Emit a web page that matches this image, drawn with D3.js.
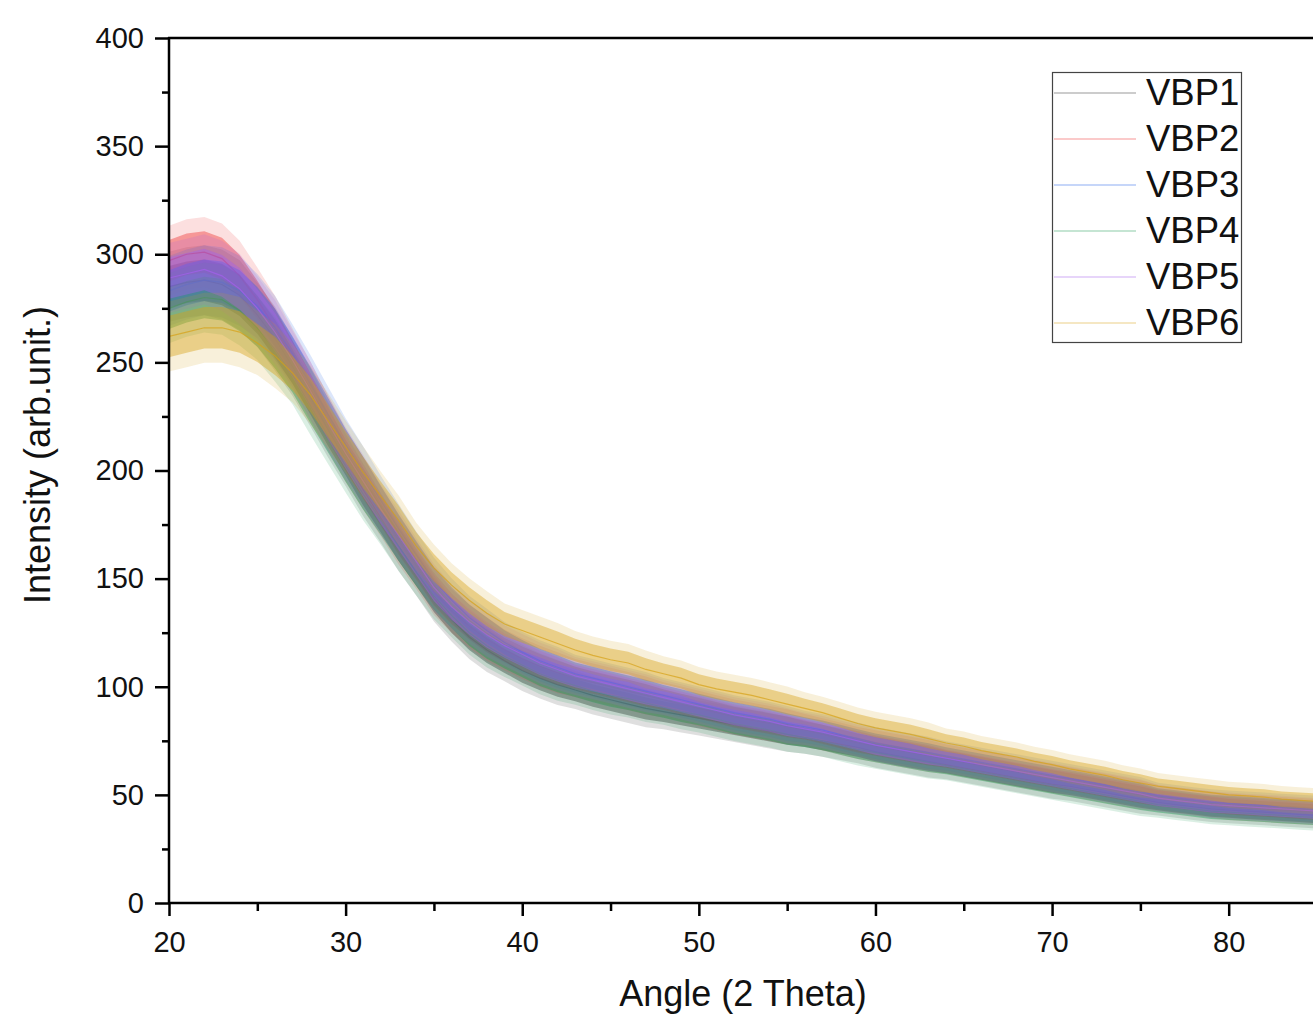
<!DOCTYPE html>
<html>
<head>
<meta charset="utf-8">
<script src="https://cdn.jsdelivr.net/npm/d3@7"></script>
<style>
  body { margin: 0; background: #fff; }
  svg { display: block; font-family: "Liberation Sans", Arial, sans-serif; }
</style>
</head>
<body>
<svg width="1313" height="1016"></svg>
<script>
// angle (2 theta), one reading per degree
const angles = [20,21,22,23,24,25,26,27,28,29,30,31,32,33,34,35,36,37,38,39,40,41,42,43,44,45,46,47,48,49,50,
  51,52,53,54,55,56,57,58,59,60,61,62,63,64,65,66,67,68,69,70,71,72,73,74,75,76,77,78,79,80,81,82,83,84,85];

// mean intensity
const vbp1 = [285,287,288,286,281,272,261,248,234,219,205,191,178,165,153,141,131,123,117,112,107.5,104,101,98.5,96,94,92,90,88.5,87,85.5,
  84,82.5,81,79.5,78,76.5,75,73.5,72,70,68.5,67,65.5,64,62.5,61,59.5,58,56.5,55,54,52.5,51,49.5,48,46.5,45.5,44.5,43.5,43,42.5,42,41.5,41,40.5];
const vbp2 = [297,300,301,298,290,279,266,252,237,222,207,194,181,168,156,144,135,128,122,117,113,109.5,106.5,104,102,100,98,96,94,92,90,
  88,86,84.5,83,81.5,80,78,76,74,72.5,71,69.5,68,66.5,65,63.5,62,60.5,59,57.5,56,54.5,53,51.5,50,48.5,47.5,46.5,45.5,44.5,44,43.5,43,42.5,42];
const vbp3 = [283,286,288,287,283,276,266,254,240,226,212,199,186,173,161,149,140,132,126,120.5,116,112,109,106,104,102,100,98,96,94,92,
  90,88,86.5,85,83,81.5,80,78,76,74,72.5,71,69.5,68,66.5,65,63.5,62,60.5,59,57.5,56,54.5,53,51.5,49.5,48.5,47.5,46.5,46,45.5,45,44.5,44,43.5];
const vbp4 = [275,278,280,279,274,266,256,244,230,216,202,189,177,165,153,142,133,125,119,114,110,106,103,100.5,98,96,94.5,92.5,90.5,88.5,87,
  85,83,81.5,80,78,76.5,75,73,71,69.5,68,66.5,65,63.5,62,60.5,59,57.5,56,54.5,53,51.5,50,48.5,47,45.5,44.5,43.5,42.5,42,41.5,41,40.5,40,39.5];
const vbp5 = [289,291,293,290,284,275,264,251,237,222,208,195,182,170,158,146,137,130,124,119,115,111,108,105,103,101,99,97,95,93,91,
  89,87,85.5,84,82,80.5,79,77,75,73,71.5,70,68.5,67,65.5,64,62.5,61,59.5,58,56.5,55,53.5,52,50.5,48.5,47.5,46.5,45.5,45,44.5,44,43.5,43,42.5];
const vbp6 = [262,264,266,266,264,259,253,245,235,223,211,199,188,177,165,155,147,140,134,129,126,123,120,117,114.5,112.5,111,108,106,104,101,
  99,97.5,96,94,92,90,88,85.5,83,81,79.5,78,76,74,72.5,70.5,69,67.5,65.5,64,62,60.5,59,57,55.5,54,53,52,51,50,49.5,49,48,47.5,47];

// half-width of the noise band around each mean
const spread = [12,12,12,12,12,11,11,10,10,9.5,9,9,8.5,8.5,8,8,7.5,7.5,7.5,7,7,7,7,6.5,6.5,6.5,6.5,6.5,6,6,6,
  6,6,6,6,6,5.5,5.5,5.5,5.5,5.5,5.5,5.5,5.5,5,5,5,5,5,5,5,5,5,5,5,5,4.5,4.5,4.5,4.5,4.5,4.5,4.5,4.5,4.5,4.5];

const names = ["VBP1", "VBP2", "VBP3", "VBP4", "VBP5", "VBP6"];
const colors = ["#3a3a3a", "#ee3535", "#2462e6", "#1f9a55", "#a45fec", "#d6a117"];
const series = [vbp1, vbp2, vbp3, vbp4, vbp5, vbp6];

const yTicks = [0, 50, 100, 150, 200, 250, 300, 350, 400];
const xTicks = [20, 30, 40, 50, 60, 70, 80];

const svg = d3.select("svg");

const x = d3.scaleLinear().domain([20, 85]).range([169, 1317]);
const y = d3.scaleLinear().domain([0, 400]).range([903, 38]);

svg.append("clipPath").attr("id", "plot")
   .append("rect")
   .attr("x", 169).attr("y", 38)
   .attr("width", 1313 - 169).attr("height", 903 - 38);

const plot = svg.append("g").attr("clip-path", "url(#plot)");

series.forEach((vals, k) => {
  const pts = angles.map((a, i) => ({a: a, v: vals[i], s: spread[i]}));

  // outer, faint part of the noise (tips of the spikes)
  const outer = d3.area()
                  .x(d => x(d.a))
                  .y0(d => y(d.v - d.s * 1.35))
                  .y1(d => y(d.v + d.s * 1.35));
  plot.append("path")
      .datum(pts)
      .attr("d", outer)
      .attr("fill", colors[k])
      .attr("fill-opacity", 0.16);

  const band = d3.area()
                 .x(d => x(d.a))
                 .y0(d => y(d.v - d.s * 0.8))
                 .y1(d => y(d.v + d.s * 0.8));
  plot.append("path")
      .datum(pts)
      .attr("d", band)
      .attr("fill", colors[k])
      .attr("fill-opacity", 0.42);

  const line = d3.line()
                 .x(d => x(d.a))
                 .y(d => y(d.v));
  plot.append("path")
      .datum(pts)
      .attr("d", line)
      .attr("fill", "none")
      .attr("stroke", colors[k])
      .attr("stroke-width", 1.2)
      .attr("stroke-opacity", 0.7);
});

// axes
svg.append("g")
   .attr("transform", "translate(169,0)")
   .call(d3.axisLeft(y).tickValues(yTicks).tickSize(14).tickPadding(11).tickFormat(d3.format("d")));
svg.append("g")
   .attr("transform", "translate(169,0)")
   .call(d3.axisLeft(y).tickValues(d3.range(25, 400, 50)).tickSize(7).tickFormat(""));

svg.append("g")
   .attr("transform", "translate(0,903)")
   .call(d3.axisBottom(x).tickValues(xTicks).tickSize(13).tickPadding(15).tickFormat(d3.format("d")));
svg.append("g")
   .attr("transform", "translate(0,903)")
   .call(d3.axisBottom(x).tickValues([25, 35, 45, 55, 65, 75, 85]).tickSize(8).tickFormat(""));

svg.selectAll(".domain").remove();
svg.selectAll(".tick line").attr("stroke", "#000").attr("stroke-width", 2.5);
svg.selectAll(".tick text").attr("fill", "#111").style("font-size", "29px");

// frame
svg.append("line").attr("x1", 169).attr("x2", 169).attr("y1", 37).attr("y2", 904)
   .attr("stroke", "#000").attr("stroke-width", 2.5);
svg.append("line").attr("x1", 168).attr("x2", 1313).attr("y1", 903).attr("y2", 903)
   .attr("stroke", "#000").attr("stroke-width", 2.5);
svg.append("line").attr("x1", 168).attr("x2", 1313).attr("y1", 38).attr("y2", 38)
   .attr("stroke", "#000").attr("stroke-width", 2.5);

// axis titles
svg.append("text")
   .attr("transform", "translate(50,455) rotate(-90)")
   .attr("text-anchor", "middle")
   .style("font-size", "36px")
   .attr("fill", "#111")
   .text("Intensity (arb.unit.)");

svg.append("text")
   .attr("x", 743).attr("y", 1006)
   .attr("text-anchor", "middle")
   .style("font-size", "36px")
   .attr("fill", "#111")
   .text("Angle (2 Theta)");

// legend
const legend = svg.append("g");
legend.append("rect")
      .attr("x", 1052.5).attr("y", 72.5)
      .attr("width", 189).attr("height", 270)
      .attr("fill", "#fff")
      .attr("stroke", "#444").attr("stroke-width", 1.2);

names.forEach((n, k) => {
  const cy = 93 + k * 46;
  legend.append("line")
        .attr("x1", 1054).attr("x2", 1136)
        .attr("y1", cy).attr("y2", cy)
        .attr("stroke", colors[k]).attr("stroke-opacity", 0.35).attr("stroke-width", 1.5);
  legend.append("text")
        .attr("x", 1146).attr("y", cy + 12)
        .style("font-size", "36.5px")
        .attr("fill", "#111")
        .text(n);
});
</script>
</body>
</html>
